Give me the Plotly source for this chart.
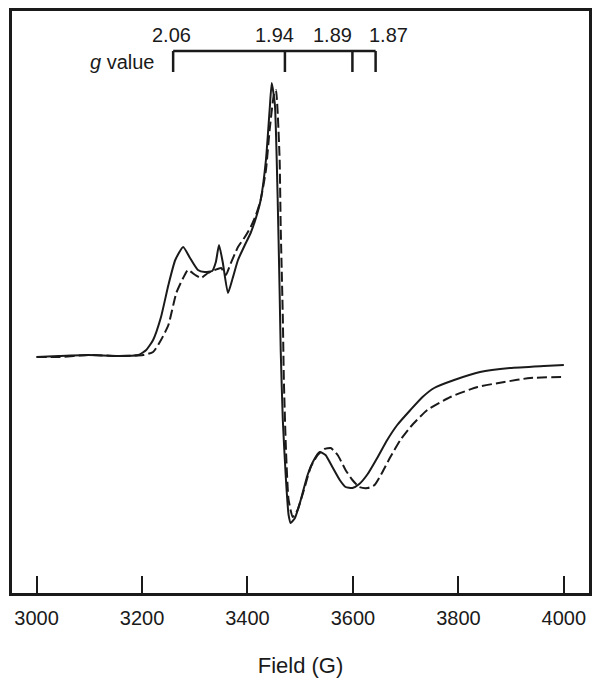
import plotly.graph_objects as go

# Solid trace (field G, intensity a.u.)
solid_field = [3000, 3042, 3098, 3155, 3193, 3208, 3221, 3236, 3250, 3263, 3278, 3291, 3306, 3319, 3333,
               3340, 3346, 3353, 3363, 3372, 3382, 3395, 3406, 3416, 3425, 3435, 3442, 3446, 3452, 3457,
               3461, 3463, 3467, 3473, 3478, 3482, 3490, 3501, 3514, 3526, 3537, 3548, 3561, 3575, 3586,
               3599, 3612, 3628, 3646, 3665, 3684, 3709, 3732, 3754, 3792, 3841, 3898, 3962, 4000]
solid_int = [-1, 0, 1, 0, 1, 6, 16, 39, 71, 96, 109, 98, 86, 84, 85,
             94, 111, 94, 63, 78, 96, 111, 123, 138, 156, 196, 246, 273, 251, 163,
             63, 6, -64, -124, -159, -167, -162, -144, -119, -104, -96, -99, -111, -124, -131,
             -132, -128, -118, -102, -84, -69, -54, -41, -32, -24, -16, -12, -10, -9]

# Dashed trace
dashed_field = [3000, 3042, 3098, 3155, 3202, 3221, 3236, 3250, 3265, 3278, 3287, 3301, 3312, 3325, 3338,
                3350, 3359, 3367, 3382, 3395, 3406, 3416, 3425, 3435, 3442, 3450, 3454, 3457, 3461, 3463,
                3467, 3469, 3473, 3478, 3486, 3495, 3507, 3520, 3533, 3546, 3558, 3571, 3586, 3599, 3612,
                3628, 3641, 3656, 3671, 3690, 3709, 3741, 3785, 3836, 3887, 3936, 4000]
dashed_int = [-1, -1, 1, 0, 1, 4, 16, 31, 63, 78, 86, 81, 78, 83, 86,
              88, 81, 91, 109, 119, 129, 141, 156, 186, 226, 261, 266, 246, 196, 129,
              39, -24, -94, -144, -161, -154, -134, -111, -99, -93, -92, -99, -114, -124, -131,
              -132, -129, -116, -101, -84, -71, -54, -41, -31, -26, -22, -21]

x_ticks = [3000, 3200, 3400, 3600, 3800, 4000]

g_labels = ["2.06", "1.94", "1.89", "1.87"]
g_tick_fields = [3259, 3471, 3599, 3643]
g_label_fields = [3256, 3452, 3561, 3667]

FONT = "Liberation Sans, Arial, sans-serif"
INK = "#1a1a1a"

fig = go.Figure()
fig.add_trace(go.Scatter(x=solid_field, y=solid_int, mode="lines",
                         line=dict(color=INK, width=2, shape="spline", smoothing=0.5),
                         showlegend=False))
fig.add_trace(go.Scatter(x=dashed_field, y=dashed_int, mode="lines",
                         line=dict(color=INK, width=2, dash="10px,4px", shape="spline", smoothing=0.5),
                         showlegend=False))

bracket_y = 305
tick_bottom = 284
fig.add_shape(type="line", x0=g_tick_fields[0], x1=g_tick_fields[-1], y0=bracket_y, y1=bracket_y,
              line=dict(color=INK, width=2.5))
for f in g_tick_fields:
    fig.add_shape(type="line", x0=f, x1=f, y0=bracket_y, y1=tick_bottom,
                  line=dict(color=INK, width=2.5))
for lab, f in zip(g_labels, g_label_fields):
    fig.add_annotation(x=f, y=321, text=lab, showarrow=False,
                       font=dict(family=FONT, size=20, color=INK))
fig.add_annotation(x=3229, y=294, text="<i>g</i> value", showarrow=False, xanchor="right",
                   font=dict(family=FONT, size=20, color=INK))

fig.update_layout(
    width=595, height=681,
    margin=dict(l=12, r=3, t=11, b=88),
    paper_bgcolor="white", plot_bgcolor="white",
    font=dict(family=FONT, color=INK),
    xaxis=dict(range=[2953.4, 4047.7], tickvals=x_ticks, ticks="inside", ticklen=17, tickwidth=2,
               tickcolor=INK, showline=True, linewidth=3, linecolor=INK, mirror=True,
               showgrid=False, zeroline=False, tickfont=dict(size=20, family=FONT, color=INK),
               ticklabelstandoff=5,
               title=dict(text="Field (G)", font=dict(size=22, family=FONT, color=INK), standoff=30)),
    yaxis=dict(range=[-237, 345], showticklabels=False, ticks="", showline=True, linewidth=3,
               linecolor=INK, mirror=True, showgrid=False, zeroline=False),
)

fig.write_html("out.html")
